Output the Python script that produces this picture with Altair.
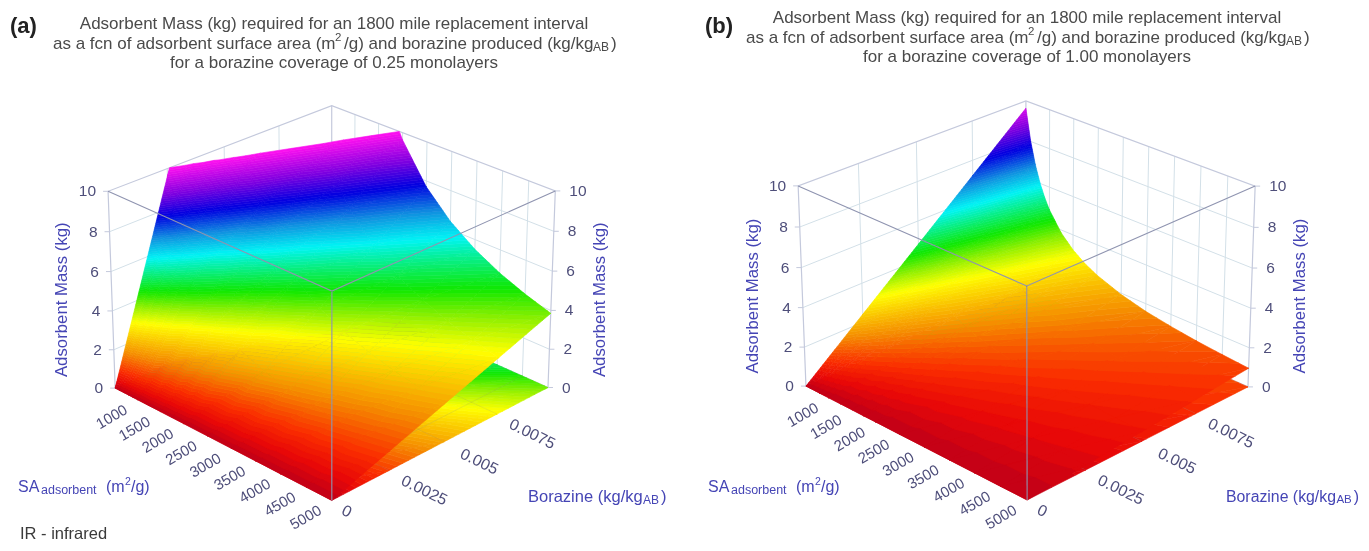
import altair as alt
import numpy as np

SA_VALUES = [500, 600, 700, 800, 900, 1000, 1250, 1500, 1750, 2000, 2500, 3000, 3500, 4000, 4500, 5000]
B_VALUES = [0, 0.0025, 0.005, 0.0075, 0.01]
MASS_A = [
    [0, 9.63, 19.25, 28.88, 38.5], [0, 8.02, 16.04, 24.06, 32.08], [0, 6.88, 13.75, 20.63, 27.5],
    [0, 6.02, 12.03, 18.05, 24.06], [0, 5.35, 10.69, 16.04, 21.39], [0, 4.81, 9.63, 14.44, 19.25],
    [0, 3.85, 7.7, 11.55, 15.4], [0, 3.21, 6.42, 9.63, 12.83], [0, 2.75, 5.5, 8.25, 11.0],
    [0, 2.41, 4.81, 7.22, 9.63], [0, 1.93, 3.85, 5.78, 7.7], [0, 1.6, 3.21, 4.81, 6.42],
    [0, 1.38, 2.75, 4.13, 5.5], [0, 1.2, 2.41, 3.61, 4.81], [0, 1.07, 2.14, 3.21, 4.28],
    [0, 0.96, 1.93, 2.89, 3.85],
]
MASS_B = [
    [0, 2.41, 4.81, 7.22, 9.63], [0, 2.0, 4.01, 6.02, 8.02], [0, 1.72, 3.44, 5.16, 6.88],
    [0, 1.5, 3.01, 4.51, 6.02], [0, 1.34, 2.67, 4.01, 5.35], [0, 1.2, 2.41, 3.61, 4.81],
    [0, 0.96, 1.93, 2.89, 3.85], [0, 0.8, 1.6, 2.41, 3.21], [0, 0.69, 1.38, 2.06, 2.75],
    [0, 0.6, 1.2, 1.8, 2.41], [0, 0.48, 0.96, 1.44, 1.93], [0, 0.4, 0.8, 1.2, 1.6],
    [0, 0.34, 0.69, 1.03, 1.38], [0, 0.3, 0.6, 0.9, 1.2], [0, 0.27, 0.53, 0.8, 1.07],
    [0, 0.24, 0.48, 0.72, 0.96],
]
SA_TICKS = [1000, 1500, 2000, 2500, 3000, 3500, 4000, 4500, 5000]
B_TICKS = [(0, "0"), (0.0025, "0.0025"), (0.005, "0.005"), (0.0075, "0.0075")]
Z_TICKS = [0, 2, 4, 6, 8, 10]
COLOR_Z = [0, 0.35, 0.8, 1.6, 3.0, 3.7, 4.4, 5.9, 6.8, 7.8, 8.8, 10]
COLOR_C = ["#c00018", "#e80808", "#fa2c00", "#f58a00", "#ffff00", "#90f000", "#10e800", "#00f4f4",
           "#1090e0", "#0000e0", "#8000e0", "#ff10f0"]

# view of each box: (SA share, borazine share, mass share) -> page pixel
VIEW_A = [((0, 0, 1), (108, 191)), ((0, 1, 1), (332, 106)), ((1, 0, 1), (332, 292)), ((1, 1, 1), (555, 190)),
          ((0, 0, 0), (115, 388)), ((1, 0, 0), (332, 500)), ((1, 1, 0), (548, 388))]
VIEW_B = [((0, 0, 1), (798, 186)), ((0, 1, 1), (1026, 101)), ((1, 0, 1), (1027, 286)), ((1, 1, 1), (1255, 186)),
          ((0, 0, 0), (806, 386)), ((1, 0, 0), (1027, 500)), ((1, 1, 0), (1248, 387))]
STEP = 0.1


def camera(view):
    rows, rhs = [], []
    for (u, v, w), (x, y) in view:
        rows.append([u, v, w, 1, 0, 0, 0, 0, -x * u, -x * v, -x * w])
        rhs.append(x)
        rows.append([0, 0, 0, 0, u, v, w, 1, -y * u, -y * v, -y * w])
        rhs.append(y)
    p = np.linalg.lstsq(np.array(rows, float), np.array(rhs, float), rcond=None)[0]
    P = np.append(p, 1.0).reshape(3, 4)

    def project(u, v, w):
        a = P @ np.array([u, v, w, 1.0])
        return [float(a[0] / a[2]), float(a[1] / a[2])]
    return project


def clip(poly, level, keep_above):
    out = []
    n = len(poly)
    for i in range(n):
        a, b = poly[i], poly[(i + 1) % n]
        ina = (a[2] >= level) if keep_above else (a[2] <= level)
        inb = (b[2] >= level) if keep_above else (b[2] <= level)
        if ina:
            out.append(a)
        if ina != inb:
            t = (level - a[2]) / (b[2] - a[2])
            out.append(tuple(a[k] + t * (b[k] - a[k]) for k in range(3)))
    return out


def bands(mass, project, flat):
    feats = []
    su = [(s - 500) / 4500 for s in SA_VALUES]
    sv = [b / 0.01 for b in B_VALUES]
    levels = np.arange(0, 10, STEP)
    for i in range(len(su) - 1):
        for j in range(len(sv) - 2, -1, -1):
            c = [(su[i], sv[j], mass[i][j]), (su[i], sv[j + 1], mass[i][j + 1]),
                 (su[i + 1], sv[j + 1], mass[i + 1][j + 1]), (su[i + 1], sv[j], mass[i + 1][j])]
            for tri in ([c[0], c[1], c[2]], [c[0], c[2], c[3]]):
                lo, hi = min(p[2] for p in tri), max(p[2] for p in tri)
                for lev in levels:
                    if lev + STEP < lo or lev > hi:
                        continue
                    poly = clip(tri, lev, True)
                    if len(poly) >= 3:
                        poly = clip(poly, lev + STEP, False)
                    if len(poly) < 3:
                        continue
                    ring = [project(p[0], p[1], 0 if flat else p[2] / 10) for p in poly]
                    ring.append(ring[0])
                    feats.append({"type": "Feature", "properties": {"z": float(lev + STEP / 2)},
                                  "geometry": {"type": "Polygon", "coordinates": [ring]}})
    return feats


def geo(chart):
    return chart.project(type="identity", scale=1, translate=[-8, -8])


def fill_layer(feats):
    data = alt.InlineData(values={"type": "FeatureCollection", "features": feats},
                          format=alt.DataFormat(property="features", type="json"))
    sc = alt.Scale(domain=COLOR_Z, range=COLOR_C, interpolate="rgb")
    return geo(alt.Chart(data).mark_geoshape(strokeWidth=0.6).encode(
        color=alt.Color("properties.z:Q", scale=sc, legend=None),
        stroke=alt.Stroke("properties.z:Q", scale=sc, legend=None)))


def line_layer(lines, color, width, opacity=1.0, **kw):
    feats = [{"type": "Feature", "properties": {}, "geometry": {"type": "LineString", "coordinates": l}} for l in lines]
    data = alt.InlineData(values={"type": "FeatureCollection", "features": feats},
                          format=alt.DataFormat(property="features", type="json"))
    return geo(alt.Chart(data).mark_geoshape(filled=False, stroke=color, strokeWidth=width, strokeOpacity=opacity, **kw))


def text_layer(items, size, color="#4a4a4a", align="left", angle=0, bold=False, font="Liberation Sans"):
    vals = [{"lon": x, "lat": y, "t": t} for x, y, t in items]
    kw = {"angle": angle} if angle else {}
    return geo(alt.Chart(alt.Data(values=vals)).mark_text(
        font=font, fontSize=size, color=color, align=align, baseline="middle",
        fontWeight="bold" if bold else "normal", **kw).encode(
        longitude="lon:Q", latitude="lat:Q", text="t:N"))


def panel(mass, view, x_sa, x_bor, bor_scale, x_tag, x_title, y_title, tag, coverage):
    pr = camera(view)
    layers = []
    back, front, grid = [], [], []
    us = [(s - 500) / 4500 for s in [500] + SA_TICKS]
    vs = [0, 0.25, 0.5, 0.75, 1]
    for u in us[1:-1]:
        grid.append([pr(u, 1, 0), pr(u, 1, 1)])
    for v in vs[1:-1]:
        grid.append([pr(0, v, 0), pr(0, v, 1)])
    for z in Z_TICKS[1:-1]:
        w = z / 10
        grid.append([pr(0, 0, w), pr(0, 1, w), pr(1, 1, w)])
    floor = []
    for u in us[1:-1]:
        floor.append([pr(u, 0, 0), pr(u, 1, 0)])
    for v in vs[1:-1]:
        floor.append([pr(0, v, 0), pr(1, v, 0)])
    back.append([pr(0, 0, 0), pr(0, 0, 1), pr(0, 1, 1), pr(1, 1, 1), pr(1, 1, 0)])
    back.append([pr(0, 1, 1), pr(0, 1, 0)])
    back.append([pr(0, 0, 0), pr(0, 1, 0), pr(1, 1, 0)])
    front.append([pr(0, 0, 1), pr(1, 0, 1), pr(1, 1, 1)])
    front.append([pr(1, 0, 1), pr(1, 0, 0)])
    ticks = []
    for z in Z_TICKS:
        a = pr(0, 0, z / 10)
        b = pr(1, 1, z / 10)
        ticks.append([a, [a[0] - 5, a[1]]])
        ticks.append([b, [b[0] + 5, b[1]]])
    layers += [line_layer(grid, "#d3e0e8", 1), line_layer(floor, "#dfe6ee", 1),
               line_layer(back, "#c4c9dc", 1.2), line_layer(ticks, "#c4c9dc", 1)]
    layers.append(fill_layer(bands(mass, pr, True)))
    layers.append(line_layer(floor, "#808080", 0.6, 0.25))
    layers.append(fill_layer(bands(mass, pr, False)))
    layers.append(line_layer(front, "#8f94b0", 1.1, 1.0, blend="multiply"))

    zc = "#4e4e7a"
    layers.append(text_layer([(pr(0, 0, z / 10)[0] - 12, pr(0, 0, z / 10)[1], str(z)) for z in Z_TICKS], 15.5, zc, "right"))
    layers.append(text_layer([(pr(1, 1, z / 10)[0] + 14, pr(1, 1, z / 10)[1], str(z)) for z in Z_TICKS], 15.5, zc))
    items = []
    for s in SA_TICKS:
        p = pr((s - 500) / 4500, 0, 0)
        items.append((p[0] - 26, p[1] + 17, str(s)))
    layers.append(text_layer(items, 15, zc, "center", 330))
    items = []
    for b, t in B_TICKS:
        p = pr(1, b / 0.01, 0)
        off = (15, 11) if t == "0" else (35, 20)
        items.append((p[0] + off[0], p[1] + off[1], t))
    layers.append(text_layer(items, 16, zc, "center", 26))

    blue = "#4545b5"
    yc = (pr(0, 0, 0)[1] + pr(0, 0, 1)[1]) / 2 + 10
    layers.append(text_layer([(pr(0, 0, 0)[0] - 53, yc, "Adsorbent Mass (kg)")], 16.8, blue, "center", 270))
    layers.append(text_layer([(pr(1, 1, 0)[0] + 52, yc, "Adsorbent Mass (kg)")], 16.8, blue, "center", 270))
    layers.append(text_layer([(x_sa, 487, "SA")], 16, blue))
    layers.append(text_layer([(x_sa + 23, 490, "adsorbent")], 12.5, blue))
    layers.append(text_layer([(x_sa + 88, 487, "(m")], 16, blue))
    layers.append(text_layer([(x_sa + 107, 482, "2")], 10.5, blue))
    layers.append(text_layer([(x_sa + 113, 487, "/g)")], 16, blue))
    layers.append(text_layer([(x_bor, 497, "Borazine (kg/kg")], 16.5 * bor_scale, blue))
    layers.append(text_layer([(x_bor + 115 * bor_scale, 500, "AB")], 12 * bor_scale, blue))
    layers.append(text_layer([(x_bor + 133 * bor_scale, 497, ")")], 16.5 * bor_scale, blue))

    tc = "#4a4a4a"
    ts = 17
    x2 = x_title - 281
    y2 = y_title + 20
    layers.append(text_layer([(x_title, y_title, "Adsorbent Mass (kg) required for an 1800 mile replacement interval")], ts, tc, "center"))
    layers.append(text_layer([(x2, y2, "as a fcn of adsorbent surface area (m")], ts, tc))
    layers.append(text_layer([(x2 + 282, y2 - 6, "2")], 11.5, tc))
    layers.append(text_layer([(x2 + 291, y2, "/g) and borazine produced (kg/kg")], ts, tc))
    layers.append(text_layer([(x2 + 540, y2 + 3, "AB")], 12, tc))
    layers.append(text_layer([(x2 + 558, y2, ")")], ts, tc))
    layers.append(text_layer([(x_title, y_title + 39, f"for a borazine coverage of {coverage} monolayers")], ts, tc, "center"))
    layers.append(text_layer([(x_tag, 26, tag)], 22, "#222222", bold=True))
    return layers


layers = panel(MASS_A, VIEW_A, 18, 528, 1.0, 10, 334, 24, "(a)", "0.25") + \
    panel(MASS_B, VIEW_B, 708, 1226, 0.96, 705, 1027, 18, "(b)", "1.00")
layers.append(text_layer([(20, 534, "IR - infrared")], 16.5, "#3a3a3a"))

chart = alt.layer(*layers).properties(
    width=1353, height=535, padding=0, background="white",
    autosize=alt.AutoSizeParams(type="none")
).configure_view(stroke=None)

chart.save("out.html", embed_options={"renderer": "svg", "actions": False})
